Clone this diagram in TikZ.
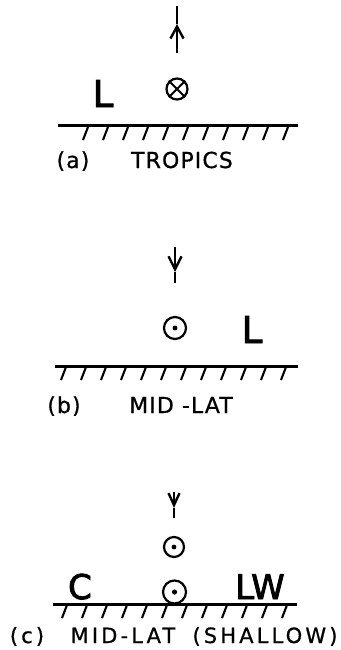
\documentclass[tikz,border=0pt]{standalone}
\usepackage{fontspec}
\newfontfamily\capfont[LetterSpace=5,FakeBold=0.8]{DejaVu Sans}
\newfontfamily\capfontw[LetterSpace=15,FakeBold=0.8]{DejaVu Sans}
\newfontfamily\letfont[FakeBold=2.5]{DejaVu Sans}
\usetikzlibrary{arrows.meta}
\begin{document}
\begin{tikzpicture}[x=1pt,y=-1pt,line width=2.4pt,
  ground/.style={line width=3pt},
  hatch/.style={line width=2.1pt},
  vec/.style={circle,draw,line width=2.2pt,inner sep=0pt},
  captxt/.style={font=\capfont\fontsize{22}{22}\selectfont,inner sep=0pt,anchor=base},
  captxtw/.style={font=\capfontw\fontsize{21}{21}\selectfont,inner sep=0pt,anchor=base},
  bigl/.style={font=\letfont\fontsize{37}{37}\selectfont,inner sep=0pt,anchor=base},
  bigc/.style={font=\letfont\fontsize{34}{34}\selectfont,inner sep=0pt,anchor=base},
  barb/.style={-{Straight Barb[length=12pt,width=13pt,line width=2.4pt]}}
]
\useasboundingbox (0,0) rectangle (340,650);

% ---------------- (a) TROPICS ----------------
\coordinate (atop) at (177,6);
\coordinate (ahead) at (177,24);
\coordinate (abot) at (177,53);
\draw[barb] (abot) -- (ahead);
\draw (ahead) -- (atop);
\node[vec,minimum size=21pt] (across) at (177,89) {};
\draw[line width=2pt] (across.45) -- (across.225) (across.135) -- (across.315);
\node[bigl] (aL) at (103,107) {L};
\draw[ground] (58,126) -- (298,126);
\foreach \i in {0,...,10} \draw[hatch] (88+20*\i,127) -- (83+20*\i,140);
\node[captxt] (alab) at (73,168) {(a)};
\node[captxt] (atext) at (182,168) {TROPICS};

% ---------------- (b) MID-LAT ----------------
\coordinate (btop) at (175,247);
\coordinate (bhead) at (175,272);
\coordinate (bbot) at (175,283);
\draw[-{Straight Barb[length=13pt,width=13pt,line width=2.4pt]}] (btop) -- (bhead);
\draw (bhead) -- (bbot);
\node[vec,minimum size=22pt] (bdot) at (175,328) {};
\fill (bdot.center) circle (2.4pt);
\node[bigl] (bL) at (252,343) {L};
\draw[ground] (55,366) -- (298,366);
\foreach \i in {0,...,11} \draw[hatch] (66+20*\i,367) -- (61+20*\i,380);
\node[captxt] (blab) at (64,413) {(b)};
\node[captxt] (btext) at (181,413) {MID -LAT};

% ---------------- (c) MID-LAT (SHALLOW) ----------------
\coordinate (ctop) at (174,492);
\coordinate (chead) at (174,508);
\coordinate (cbot) at (174,518);
\draw[-{Straight Barb[length=12pt,width=11pt,line width=2.4pt]}] (ctop) -- (chead);
\draw (chead) -- (cbot);
\node[vec,minimum size=20pt] (cdotu) at (174,547) {};
\fill (cdotu.center) circle (2.4pt);
\node[vec,minimum size=23pt] (cdotl) at (174.5,592) {};
\fill (cdotl.center) circle (2.6pt);
\node[bigc] (cC) at (80,599) {C};
\node[bigc] (cLW) at (260,599) {LW};
\draw[ground] (53,604) -- (297,604);
\foreach \i in {0,...,11} \draw[hatch] (67+20*\i,605) -- (62+20*\i,618);
\node[captxtw] (clab) at (27,643) {(c)};
\node[captxtw] (ctext1) at (123,643) {MID-LAT};
\node[captxtw] (ctext2) at (265,643) {(SHALLOW)};
\end{tikzpicture}
\end{document}
